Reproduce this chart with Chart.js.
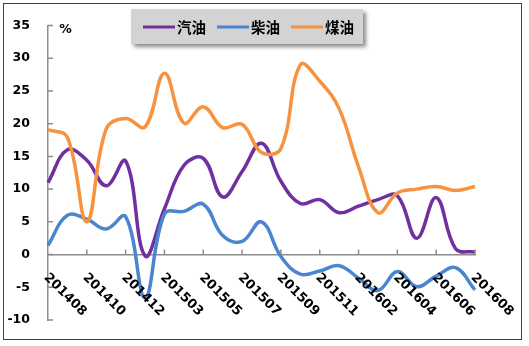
<!DOCTYPE html>
<html>
<head>
<meta charset="utf-8">
<script src="https://cdn.jsdelivr.net/npm/chart.js@4.4.1/dist/chart.umd.min.js"></script>
<style>
html,body{margin:0;padding:0;background:#fff;}
canvas{display:block;}
</style>
</head>
<body>
<canvas id="c" width="529" height="346"></canvas>
<script>
// ---- data ----
const categories = ['201408','201409','201410','201411','201412','201502','201503','201504','201505','201506','201507','201508','201509','201510','201511','201512','201602','201603','201604','201605','201606','201607','201608'];
const gasoline = [11.0, 16.0, 14.4, 10.5, 14.3, -0.2, 7.0, 13.6, 14.7, 8.8, 12.7, 17.0, 11.2, 7.8, 8.4, 6.4, 7.4, 8.4, 9.0, 2.5, 8.7, 0.9, 0.4];
const diesel = [1.4, 6.0, 5.4, 3.9, 5.8, -6.6, 6.2, 6.6, 7.7, 2.9, 2.0, 5.0, -0.3, -3.0, -2.5, -1.7, -3.6, -5.5, -2.6, -4.9, -3.3, -2.0, -5.4];
const kerosene = [19.1, 17.9, 5.0, 19.2, 20.8, 19.5, 27.7, 20.1, 22.6, 19.4, 19.9, 15.6, 16.2, 29.0, 26.5, 22.3, 13.4, 6.4, 9.4, 10.0, 10.4, 9.8, 10.4];
const seriesNames = ['汽油', '柴油', '煤油'];
const seriesColors = ['#7030A0', '#4A86CF', '#F7923F'];
const xTickLabels = categories.filter((c, i) => i % 2 === 0);
const yMin = -10, yMax = 35, yStep = 5;
const unitLabel = '%';

const decor = {
  id: 'decor',
  beforeDraw(chart) {
    const ctx = chart.ctx;
    ctx.save();
    ctx.fillStyle = '#ffffff';
    ctx.fillRect(0, 0, chart.width, chart.height);
    ctx.restore();
  },
  afterDraw(chart) {
    const ctx = chart.ctx;
    const xs = chart.scales.x, ys = chart.scales.y;
    const left = chart.chartArea.left;
    const y0 = ys.getPixelForValue(0);
    ctx.save();
    // inside tick marks
    ctx.strokeStyle = '#8c8c8c';
    ctx.lineWidth = 1.5;
    ctx.beginPath();
    for (let v = yMin; v <= yMax; v += yStep) {
      const py = ys.getPixelForValue(v);
      ctx.moveTo(left, py);
      ctx.lineTo(left + 5, py);
    }
    categories.forEach((c, i) => {
      if (i % 2 === 0 && i > 0) {
        const px = xs.getPixelForValue(i);
        ctx.moveTo(px, y0);
        ctx.lineTo(px, y0 - 5);
      }
    });
    ctx.stroke();
    // rotated x labels
    ctx.fillStyle = '#000';
    ctx.font = 'bold 13px "DejaVu Sans"';
    ctx.textAlign = 'left';
    ctx.textBaseline = 'middle';
    let li = 0;
    categories.forEach((c, i) => {
      if (i % 2 !== 0) return;
      const px = xs.getPixelForValue(i);
      ctx.save();
      ctx.translate(px - 2, y0 + 21);
      ctx.rotate(Math.PI / 4);
      ctx.fillText(xTickLabels[li++], 0, 0);
      ctx.restore();
    });
    // unit label
    ctx.textAlign = 'center';
    ctx.font = 'bold 12.5px "DejaVu Sans"';
    ctx.fillText(unitLabel, left + 17.5, 30);
    // legend box
    const lx = 131, ly = 9, lw = 232, lh = 35;
    ctx.save();
    ctx.shadowColor = 'rgba(0,0,0,0.45)';
    ctx.shadowBlur = 4;
    ctx.shadowOffsetX = 3;
    ctx.shadowOffsetY = 3;
    ctx.fillStyle = '#d3d3d3';
    ctx.fillRect(lx, ly, lw, lh);
    ctx.restore();
    ctx.font = 'bold 14.5px "Noto Sans CJK SC"';
    ctx.textAlign = 'left';
    ctx.textBaseline = 'middle';
    let cx = 143;
    const cy = 27;
    seriesNames.forEach((name, k) => {
      ctx.strokeStyle = seriesColors[k];
      ctx.lineWidth = 3;
      ctx.beginPath();
      ctx.moveTo(cx, cy);
      ctx.lineTo(cx + 32, cy);
      ctx.stroke();
      ctx.fillStyle = '#000';
      ctx.fillText(name, cx + 34, cy);
      cx += 34 + ctx.measureText(name).width + 11;
    });
    // outer frame
    ctx.strokeStyle = '#404040';
    ctx.lineWidth = 1;
    ctx.strokeRect(3.5, 3.5, 518, 336);
    ctx.restore();
  }
};

const mk = (k, data, order) => ({
  label: seriesNames[k],
  data: data,
  borderColor: seriesColors[k],
  backgroundColor: seriesColors[k],
  borderWidth: 3.5,
  pointRadius: 0,
  tension: 0.4,
  fill: false,
  order: order
});

new Chart(document.getElementById('c'), {
  type: 'line',
  data: {
    labels: categories,
    datasets: [mk(0, gasoline, 2), mk(1, diesel, 1), mk(2, kerosene, 0)]
  },
  options: {
    responsive: false,
    animation: false,
    devicePixelRatio: 1,
    layout: { padding: { left: 0, right: 54, top: 20, bottom: 26 } },
    plugins: { legend: { display: false }, tooltip: { enabled: false } },
    scales: {
      x: {
        type: 'category',
        offset: false,
        position: { y: 0 },
        ticks: { display: false },
        grid: { display: false, drawTicks: false },
        border: { display: true, color: '#8c8c8c', width: 1.5 }
      },
      y: {
        min: yMin,
        max: yMax,
        ticks: {
          stepSize: yStep,
          color: '#000',
          padding: 18,
          font: { family: 'DejaVu Sans', weight: 'bold', size: 12.5 }
        },
        grid: { display: false, drawTicks: false },
        border: { display: true, color: '#8c8c8c', width: 1.5 },
        afterFit(s) { s.width = 48; }
      }
    }
  },
  plugins: [decor]
});
</script>
</body>
</html>
